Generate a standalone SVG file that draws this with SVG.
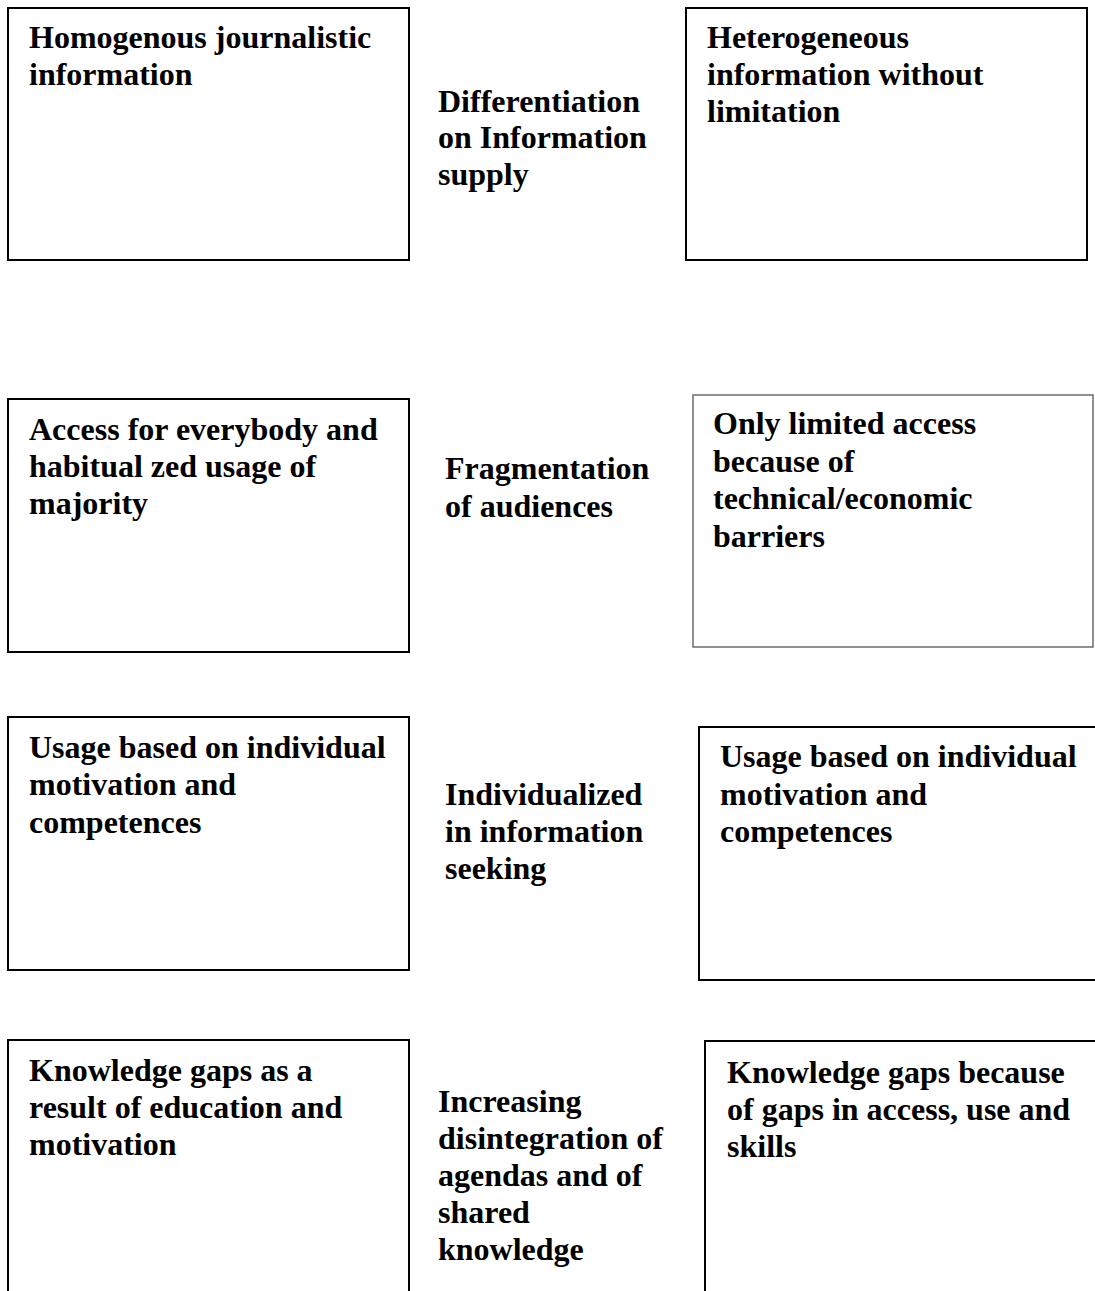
<svg xmlns="http://www.w3.org/2000/svg" width="1095" height="1291" viewBox="0 0 1095 1291">
<style>
  .box { fill: #ffffff; stroke: #000000; stroke-width: 2; }
  .thin { stroke: #555555; stroke-width: 1.3; }
  text { font-family: "Liberation Serif", "Times New Roman", serif; font-weight: bold; font-size: 32px; fill: #000000; }
</style>
<rect x="0" y="0" width="1095" height="1291" fill="#ffffff"/>
<g id="connectors"></g>

<g id="n1">
  <rect class="box" x="8" y="8" width="401" height="252"/>
  <text x="29" y="48">Homogenous journalistic</text>
  <text x="29" y="85">information</text>
</g>
<g id="m1">
  <text x="438" y="112">Differentiation</text>
  <text x="438" y="148">on Information</text>
  <text x="438" y="185">supply</text>
</g>
<g id="n2">
  <rect class="box" x="686" y="8" width="401" height="252"/>
  <text x="707" y="48">Heterogeneous</text>
  <text x="707" y="85">information without</text>
  <text x="707" y="122">limitation</text>
</g>

<g id="n3">
  <rect class="box" x="8" y="399" width="401" height="253"/>
  <text x="29" y="440">Access for everybody and</text>
  <text x="29" y="477">habitual zed usage of</text>
  <text x="29" y="514">majority</text>
</g>
<g id="m2">
  <text x="445" y="479">Fragmentation</text>
  <text x="445" y="517">of audiences</text>
</g>
<g id="n4">
  <rect class="box thin" x="693" y="395" width="400" height="252"/>
  <text x="713" y="434">Only limited access</text>
  <text x="713" y="472">because of</text>
  <text x="713" y="509">technical/economic</text>
  <text x="713" y="547">barriers</text>
</g>

<g id="n5">
  <rect class="box" x="8" y="717" width="401" height="253"/>
  <text x="29" y="758">Usage based on individual</text>
  <text x="29" y="795">motivation and</text>
  <text x="29" y="833">competences</text>
</g>
<g id="m3">
  <text x="445" y="805">Individualized</text>
  <text x="445" y="842">in information</text>
  <text x="445" y="879">seeking</text>
</g>
<g id="n6">
  <rect class="box" x="699" y="727" width="410" height="253"/>
  <text x="720" y="767">Usage based on individual</text>
  <text x="720" y="805">motivation and</text>
  <text x="720" y="842">competences</text>
</g>

<g id="n7">
  <rect class="box" x="8" y="1040" width="401" height="270"/>
  <text x="29" y="1081">Knowledge gaps as a</text>
  <text x="29" y="1118">result of education and</text>
  <text x="29" y="1155">motivation</text>
</g>
<g id="m4">
  <text x="438" y="1112">Increasing</text>
  <text x="438" y="1149">disintegration of</text>
  <text x="438" y="1186">agendas and of</text>
  <text x="438" y="1223">shared</text>
  <text x="438" y="1260">knowledge</text>
</g>
<g id="n8">
  <rect class="box" x="705" y="1041" width="410" height="270"/>
  <text x="727" y="1083">Knowledge gaps because</text>
  <text x="727" y="1120">of gaps in access, use and</text>
  <text x="727" y="1157">skills</text>
</g>
</svg>
